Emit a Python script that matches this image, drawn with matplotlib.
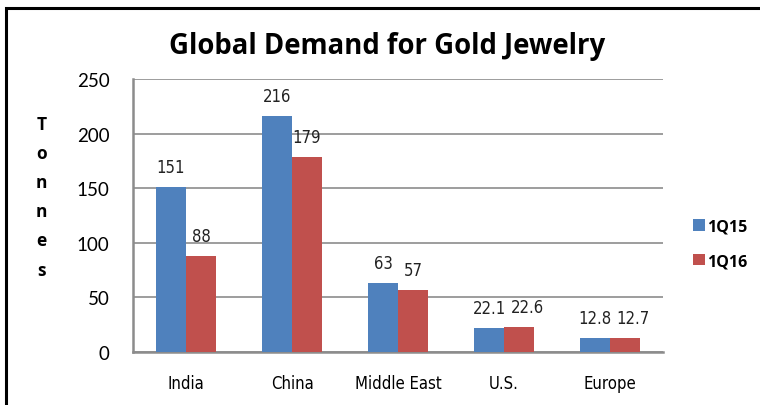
import numpy as np
import matplotlib
matplotlib.use("Agg")
from matplotlib import pyplot as plt
from matplotlib.patches import Rectangle
from matplotlib.transforms import ScaledTranslation

regions = ["India", "China", "Middle East", "U.S.", "Europe"]
q1_15 = [151, 216, 63, 22.1, 12.8]
q1_16 = [88, 179, 57, 22.6, 12.7]
labels_15 = ["151", "216", "63", "22.1", "12.8"]
labels_16 = ["88", "179", "57", "22.6", "12.7"]
series_names = ["1Q15", "1Q16"]

blue = "#4F81BD"
red = "#C0504D"

fig = plt.figure(figsize=(7.6, 4.06), dpi=100)
ax = fig.add_axes([0.175, 0.1305, 0.6974, 0.6724])

x = np.arange(len(regions))
w = 0.283
b1 = ax.bar(x - w / 2, q1_15, w, color=blue, label=series_names[0], zorder=3)
b2 = ax.bar(x + w / 2, q1_16, w, color=red, label=series_names[1], zorder=3)

texts = []
for bars, labs in [(b1, labels_15), (b2, labels_16)]:
    row = []
    for rect, lab in zip(bars, labs):
        t = ax.text(rect.get_x() + rect.get_width() / 2, rect.get_height() + 10, lab,
                    ha="center", va="bottom", fontsize=12, family="DejaVu Sans",
                    stretch="condensed", color="#222222")
        row.append(t)
    texts.append(row)

ax.set_xlim(-0.5, len(regions) - 0.5)
ax.set_ylim(0, 250)
ax.set_yticks([0, 50, 100, 150, 200, 250])
ax.yaxis.grid(True, color="#8c8c8c", linewidth=1.2, zorder=0)
ax.set_xticks(x)
ax.set_xticklabels(regions, family="DejaVu Sans", stretch="condensed", fontsize=12)
ax.tick_params(axis="x", length=0, pad=16)
ax.tick_params(axis="y", length=0, pad=17, labelsize=13.5)
for lab in ax.get_yticklabels():
    lab.set_family(["Lato", "DejaVu Sans"])
for s in ["top", "right"]:
    ax.spines[s].set_visible(False)
for s in ["left", "bottom"]:
    ax.spines[s].set_color("#8c8c8c")
    ax.spines[s].set_linewidth(1.8)

# push the 1Q16 label right when it would run into the 1Q15 label
fig.canvas.draw()
r = fig.canvas.get_renderer()
for ta, tb in zip(texts[0], texts[1]):
    ea = ta.get_window_extent(r)
    eb = tb.get_window_extent(r)
    same_row = eb.y1 > ea.y0 and ea.y1 > eb.y0
    gap = eb.x0 - ea.x1
    if same_row and gap < 5:
        tb.set_transform(tb.get_transform() + ScaledTranslation((5 - gap) / 100, 0, fig.dpi_scale_trans))

fig.text(0.509, 0.885, "Global Demand for Gold Jewelry", ha="center", va="center",
         fontsize=19.8, fontweight="bold", family=["Open Sans", "DejaVu Sans"])

fig.text(0.055, 0.5135, "T\no\nn\nn\ne\ns", ha="center", va="center", fontsize=12.5,
         fontweight="bold", linespacing=1.8, family=["Open Sans", "DejaVu Sans"])

leg = fig.legend(handles=[b1, b2], labels=series_names, loc="upper left",
                 bbox_to_anchor=(0.893, 0.494), frameon=False, handlelength=0.75,
                 handleheight=0.75, handletextpad=0.15, labelspacing=1.15,
                 prop={"family": ["Open Sans", "DejaVu Sans"], "weight": "bold", "size": 11.5})

fig.patches.append(Rectangle((6 / 760, -0.1), 1.2, 1.1 - 9 / 406, transform=fig.transFigure,
                             fill=False, edgecolor="black", linewidth=2.2, figure=fig))

fig.savefig("out.png", dpi=100)
